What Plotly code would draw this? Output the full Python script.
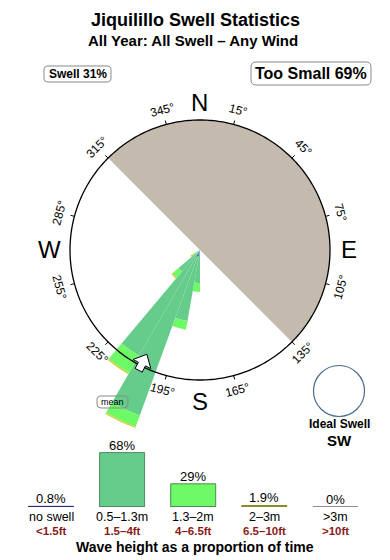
import numpy as np
import plotly.graph_objects as go

W, H = 390, 560
CX, CY = 200, 250          # rose centre (px)
R_FRAME = 130              # compass circle radius (px)
R_MAX = 190                # polar outer radius (px)

# ---------------- data ----------------
title = "Jiquilillo Swell Statistics"
subtitle = "All Year: All Swell – Any Wind"
swell_pct = 31
too_small_pct = 69

rose_dirs = [185, 195, 205, 215, 225, 235]
rose_bin_width = 10
rose_noswell = [0, 6, 8, 0, 0, 0]
rose_small = [33, 66, 168, 122, 28, 4]      # 0.5-1.3m
rose_medium = [9, 9, 12, 20, 8, 4]          # 1.3-2m
rose_large = [0, 0, 1.5, 1.5, 1.5, 3]       # 2-3m
rose_huge = [0, 0, 0, 0, 0, 0]              # >3m
mean_dir = 207
ideal_dir = "SW"

shadow_from, shadow_to = 315, 135           # sheltered / too-small sector
compass_ticks = [15, 45, 75, 105, 135, 165, 195, 225, 255, 285, 315, 345]
compass_points = ["N", "E", "S", "W"]
compass_angles = [0, 90, 180, 270]

cats = ["no swell", "0.5–1.3m", "1.3–2m", "2–3m", ">3m"]
cats_ft = ["<1.5ft", "1.5–4ft", "4–6.5ft", "6.5–10ft", ">10ft"]
cat_pct = [0.8, 68, 29, 1.9, 0]
pct_labels = ["0.8%", "68%", "29%", "1.9%", "0%"]

cat_colors = ["#5050D8", "#66CC8C", "#6EFA66", "#D2CE3E", "#C4A4A4"]
cat_lines = ["#2A2A80", "#4E8A62", "#4E8A4E", "#8A8A2A", "#A08888"]
SHADOW = "#C5BAAE"
FONT = "Liberation Sans, Arial, sans-serif"


def px(x):
    return x / W


def py(y):
    return 1 - y / H


fig = go.Figure()

# ---------------- rose (polar) ----------------
fig.add_trace(go.Barpolar(
    r=[R_FRAME], theta=[(shadow_from + (360 - shadow_from + shadow_to) / 2) % 360],
    width=[(360 - shadow_from + shadow_to)], marker=dict(color=SHADOW, line=dict(width=0)),
    base=[0], hoverinfo="skip", showlegend=False, subplot="polar"))

bands = [rose_noswell, rose_small, rose_medium, rose_large, rose_huge]
cum = np.zeros(len(rose_dirs))
for vals, col in zip(bands, cat_colors):
    v = np.array(vals, dtype=float)
    fig.add_trace(go.Barpolar(
        r=v, theta=rose_dirs, width=[rose_bin_width] * len(rose_dirs), base=cum.copy(),
        marker=dict(color=col, line=dict(width=0)),
        hoverinfo="skip", showlegend=False, subplot="polar"))
    cum += v

circ_t = np.arange(0, 361, 1)
fig.add_trace(go.Scatterpolar(
    r=[R_FRAME] * len(circ_t), theta=circ_t, mode="lines",
    line=dict(color="black", width=1.3), hoverinfo="skip", showlegend=False, subplot="polar"))

tr, tt = [], []
for t in compass_ticks:
    tr += [R_FRAME, R_FRAME + 4, None]
    tt += [t, t, None]
fig.add_trace(go.Scatterpolar(
    r=tr, theta=tt, mode="lines", line=dict(color="black", width=1),
    hoverinfo="skip", showlegend=False, subplot="polar"))

# mean-direction arrow (local coords: u outward, v across)
R0 = 125
arrow_uv = [(-8, 0), (3, 10), (3, 4), (10, 4), (10, -4), (3, -4), (3, -10), (-8, 0)]
ar, at = [], []
for u, v in arrow_uv:
    ar.append(np.hypot(R0 + u, v))
    at.append(mean_dir + np.degrees(np.arctan2(v, R0 + u)))
fig.add_trace(go.Scatterpolar(
    r=ar, theta=at, mode="lines", fill="toself", fillcolor="white",
    line=dict(color="black", width=1), hoverinfo="skip", showlegend=False, subplot="polar"))

# ---------------- bar chart ----------------
BAR_W = 0.633
for i in range(len(cats)):
    fig.add_trace(go.Scatter(
        x=[i - BAR_W / 2, i + BAR_W / 2], y=[0, 0], mode="lines",
        line=dict(color=cat_lines[i], width=2), hoverinfo="skip", showlegend=False,
        xaxis="x", yaxis="y"))
fig.add_trace(go.Bar(
    x=list(range(len(cats))), y=cat_pct, width=BAR_W,
    marker=dict(color=cat_colors, line=dict(color=cat_lines, width=1)),
    hoverinfo="skip", showlegend=False, xaxis="x", yaxis="y"))


def ann(x, y, text, size, color="black", xref="paper", yref="paper", **kw):
    d = dict(x=x, y=y, xref=xref, yref=yref, text=text, showarrow=False,
             xanchor="center", yanchor="middle",
             font=dict(size=size, color=color, family=FONT))
    d.update(kw)
    return d


annotations = []
for i in range(len(cats)):
    annotations.append(ann(i, cat_pct[i], pct_labels[i], 13, xref="x", yref="y",
                           yanchor="bottom", yshift=-2))
    annotations.append(ann(i, py(516.5), cats[i], 12.5, xref="x", borderpad=0))
    annotations.append(ann(i, py(531), "<b>" + cats_ft[i] + "</b>", 11.5, color="#8B1A1A",
                           xref="x", borderpad=0))
annotations.append(ann(px(195), py(547), "<b>Wave height as a proportion of time</b>", 14,
                       borderpad=0))

# titles
annotations.append(ann(px(195), py(20), "<b>" + title + "</b>", 18))
annotations.append(ann(px(193), py(41), "<b>" + subtitle + "</b>", 15))
annotations.append(ann(px(77.5), py(74), "<b>Swell %d%%</b>" % swell_pct, 12))
annotations.append(ann(px(311), py(73.5), "<b>Too Small %d%%</b>" % too_small_pct, 16))
annotations.append(ann(px(112.5), py(402), "mean", 9))

# compass letters
letter_r = [148, 149, 151, 151]
for lab, ang, rr in zip(compass_points, compass_angles, letter_r):
    a = np.radians(ang)
    annotations.append(ann(px(CX + rr * np.sin(a)), py(CY - rr * np.cos(a)), lab, 24))

# degree labels
for t in compass_ticks:
    a = np.radians(t)
    rr = 145
    ang = t if (t < 90 or t > 270) else t - 180
    if ang > 180:
        ang -= 360
    annotations.append(ann(px(CX + rr * np.sin(a)), py(CY - rr * np.cos(a)), "%d°" % t, 12,
                           textangle=ang))

# ideal swell
annotations.append(ann(px(339), py(424), "<b>Ideal Swell</b>", 12))
annotations.append(ann(px(339), py(440), "<b>%s</b>" % ideal_dir, 15))


def rounded_box(x0, y0, x1, y1, r):
    X0, X1 = px(x0), px(x1)
    Y0, Y1 = py(y0), py(y1)
    rx, ry = r / W, r / H
    return ("M %f,%f L %f,%f Q %f,%f %f,%f L %f,%f Q %f,%f %f,%f L %f,%f Q %f,%f %f,%f "
            "L %f,%f Q %f,%f %f,%f Z" % (
                X0 + rx, Y0, X1 - rx, Y0, X1, Y0, X1, Y0 - ry, X1, Y1 + ry, X1, Y1, X1 - rx, Y1,
                X0 + rx, Y1, X0, Y1, X0, Y1 + ry, X0, Y0 - ry, X0, Y0, X0 + rx, Y0))


shapes = [
    dict(type="path", xref="paper", yref="paper", path=rounded_box(44, 66, 111, 82, 4),
         line=dict(color="#888888", width=1)),
    dict(type="path", xref="paper", yref="paper", path=rounded_box(251, 62, 371, 85, 5),
         line=dict(color="#888888", width=1)),
    dict(type="path", xref="paper", yref="paper", path=rounded_box(97, 396, 128, 408, 4),
         line=dict(color="#888888", width=1)),
    dict(type="circle", xref="paper", yref="paper",
         x0=px(339 - 25.5), x1=px(339 + 25.5), y0=py(391 + 25.5), y1=py(391 - 25.5),
         line=dict(color="#4A6A8E", width=1.2)),
]

fig.update_layout(
    width=W, height=H, margin=dict(l=0, r=0, t=0, b=0),
    paper_bgcolor="white", plot_bgcolor="white",
    showlegend=False, font=dict(family=FONT),
    polar=dict(
        domain=dict(x=[px(CX - R_MAX), px(CX + R_MAX)], y=[py(CY + R_MAX), py(CY - R_MAX)]),
        bgcolor="rgba(0,0,0,0)", hole=0, barmode="overlay",
        radialaxis=dict(range=[0, R_MAX], visible=False),
        angularaxis=dict(direction="clockwise", rotation=90, visible=False),
    ),
    xaxis=dict(domain=[0, 1], range=[-51 / 71.1, (W - 51) / 71.1], visible=False, fixedrange=True),
    yaxis=dict(domain=[py(507), py(451)], range=[0, 70], visible=False, fixedrange=True),
    annotations=annotations, shapes=shapes,
)

fig.write_html("out.html")
